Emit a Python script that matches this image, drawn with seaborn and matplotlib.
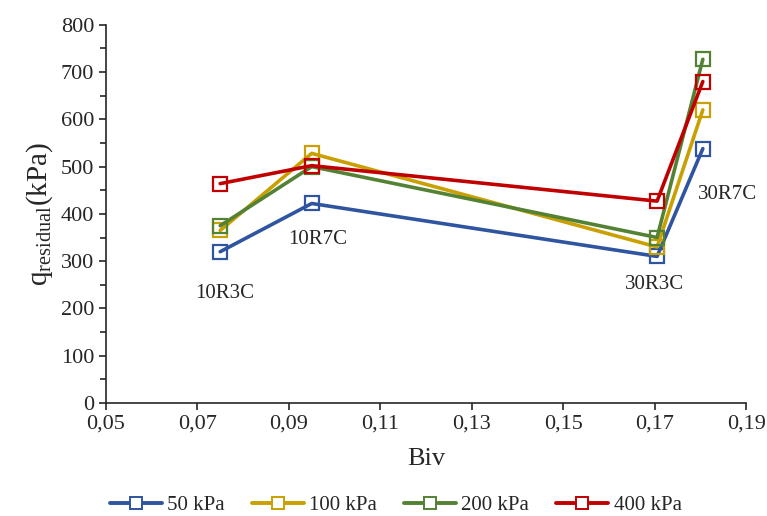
import matplotlib
matplotlib.use("Agg")
import matplotlib.pyplot as plt
import matplotlib.ticker as mticker
from matplotlib.lines import Line2D
import seaborn as sns

# data
biv = [0.075, 0.095, 0.1705, 0.1805]
q_50 = [320, 422, 310, 538]
q_100 = [365, 528, 330, 620]
q_200 = [375, 500, 350, 727]
q_400 = [464, 502, 427, 680]
series_names = ["50 kPa", "100 kPa", "200 kPa", "400 kPa"]
colors = ["#2F55A0", "#C9A000", "#548235", "#C00000"]

labels = ["10R3C", "10R7C", "30R3C", "30R7C"]
label_x = [0.0760, 0.0963, 0.1700, 0.1858]
label_y = [232, 345, 250, 440]

sns.set_style("ticks")
plt.rcParams["font.family"] = ["Liberation Serif", "DejaVu Serif"]
plt.rcParams["mathtext.fontset"] = "custom"
plt.rcParams["mathtext.rm"] = "Liberation Serif"
plt.rcParams["mathtext.it"] = "Liberation Serif"

fig, ax = plt.subplots(figsize=(7.67, 5.16), dpi=100)
fig.subplots_adjust(left=0.138, right=0.973, top=0.952, bottom=0.219)

style = dict(marker="s", markersize=10, markerfacecolor="none",
             markeredgewidth=1.6, linewidth=2.6)
handles = []
for name, vals, c in zip(series_names, [q_50, q_100, q_200, q_400], colors):
    sns.lineplot(x=biv, y=vals, color=c, markeredgecolor=c, sort=False,
                 legend=False, ax=ax, **style)
    handles.append(Line2D([], [], color=c, markeredgecolor=c, label=name,
                          marker="s", markersize=8, markerfacecolor="white",
                          markeredgewidth=1.4, linewidth=2.8))

for t, x, y in zip(labels, label_x, label_y):
    ax.text(x, y, t, ha="center", va="center", fontsize=15)

ax.set_xlim(0.05, 0.19)
ax.set_ylim(0, 800)
ax.set_xticks([0.05, 0.07, 0.09, 0.11, 0.13, 0.15, 0.17, 0.19])
ax.xaxis.set_major_formatter(mticker.FuncFormatter(lambda v, p: f"{v:.2f}".replace(".", ",")))
ax.yaxis.set_major_locator(mticker.MultipleLocator(100))
ax.yaxis.set_minor_locator(mticker.MultipleLocator(50))
ax.tick_params(axis="both", labelsize=16, direction="out", length=5, width=1.2)
ax.tick_params(axis="y", which="minor", length=4, width=1.2)
for s in ["left", "bottom"]:
    ax.spines[s].set_linewidth(1.2)
sns.despine(ax=ax)

ax.set_xlabel("Biv", fontsize=19, labelpad=10)
ax.set_ylabel(r"q$_{\mathrm{residual}}$(kPa)", fontsize=21, labelpad=4)

fig.legend(handles=handles, loc="center", bbox_to_anchor=(0.516, 0.02),
           ncol=4, frameon=False, fontsize=15, handlelength=2.5,
           columnspacing=1.3, handletextpad=0.25, borderaxespad=0)

plt.savefig("out.png", dpi=100)
